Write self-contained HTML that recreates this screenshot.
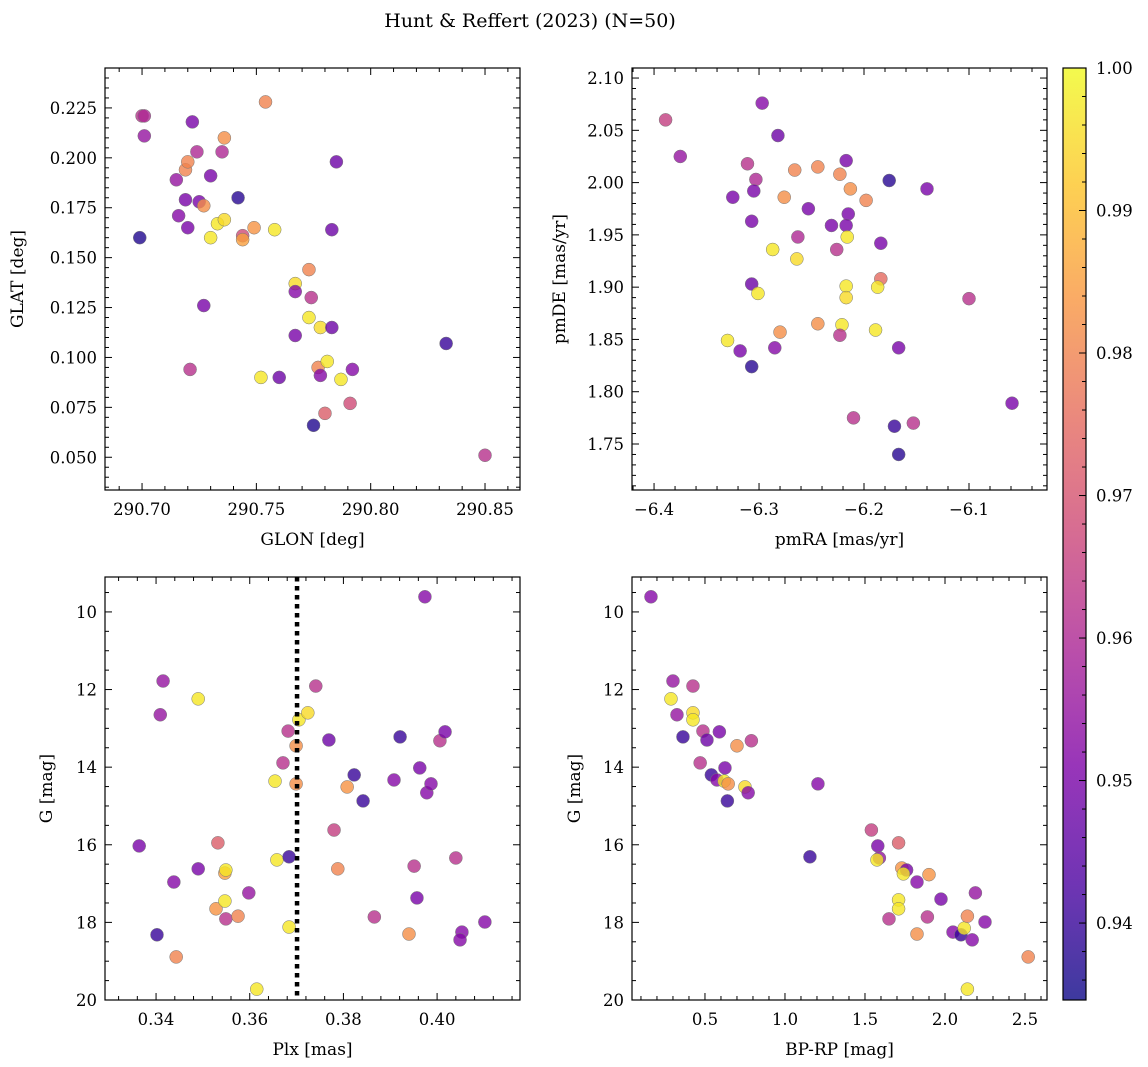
<!DOCTYPE html>
<html><head><meta charset="utf-8">
<style>
html,body{margin:0;padding:0;background:#fff;}
svg{display:block;font-family:"DejaVu Serif","Liberation Serif",serif;}
</style></head>
<body>
<svg id="fig" width="1148" height="1067" viewBox="0 0 1148 1067" xmlns="http://www.w3.org/2000/svg">
<text x="530" y="27" font-size="19" text-anchor="middle">Hunt &amp; Reffert (2023) (N=50)</text>
</svg>
<script>
// Panel 1: GLON vs GLAT
const glon = [290.699,290.700,290.701,290.701,290.715,290.716,290.719,290.719,290.720,290.720,290.722,290.721,290.724,290.725,290.727,290.727,290.730,290.730,290.733,290.735,290.736,290.736,290.742,290.744,290.744,290.749,290.752,290.754,290.758,290.760,290.767,290.767,290.767,290.773,290.773,290.774,290.775,290.777,290.778,290.778,290.780,290.781,290.783,290.783,290.785,290.787,290.791,290.792,290.833,290.850];
const glat = [0.160,0.221,0.221,0.211,0.189,0.171,0.179,0.194,0.198,0.165,0.218,0.094,0.203,0.178,0.176,0.126,0.160,0.191,0.167,0.203,0.210,0.169,0.180,0.161,0.159,0.165,0.090,0.228,0.164,0.090,0.137,0.133,0.111,0.144,0.120,0.130,0.066,0.095,0.091,0.115,0.072,0.098,0.115,0.164,0.198,0.089,0.077,0.094,0.107,0.051];
const prob1 = [0.937,0.962,0.960,0.955,0.955,0.952,0.950,0.980,0.980,0.950,0.950,0.962,0.960,0.950,0.982,0.950,0.997,0.950,0.997,0.960,0.982,0.995,0.938,0.968,0.985,0.983,0.997,0.980,0.997,0.948,0.995,0.952,0.950,0.980,0.997,0.962,0.937,0.980,0.952,0.995,0.972,0.997,0.948,0.948,0.948,0.997,0.968,0.952,0.940,0.962];
// Panel 2: pmRA vs pmDE
const pmra = [-6.389,-6.297,-6.375,-6.311,-6.282,-6.325,-6.303,-6.305,-6.307,-6.266,-6.276,-6.244,-6.253,-6.223,-6.217,-6.213,-6.198,-6.231,-6.215,-6.217,-6.216,-6.263,-6.287,-6.226,-6.264,-6.176,-6.140,-6.184,-6.307,-6.301,-6.217,-6.217,-6.184,-6.187,-6.100,-6.280,-6.244,-6.221,-6.189,-6.223,-6.330,-6.318,-6.285,-6.167,-6.307,-6.059,-6.210,-6.153,-6.171,-6.167];
const pmde = [2.060,2.076,2.025,2.018,2.045,1.986,2.003,1.992,1.963,2.012,1.986,2.015,1.975,2.008,2.021,1.994,1.983,1.959,1.970,1.959,1.948,1.948,1.936,1.936,1.927,2.002,1.994,1.942,1.903,1.894,1.901,1.890,1.908,1.900,1.889,1.857,1.865,1.864,1.859,1.854,1.849,1.839,1.842,1.842,1.824,1.789,1.775,1.770,1.767,1.740];
const prob2 = [0.965,0.952,0.955,0.962,0.948,0.950,0.960,0.950,0.950,0.980,0.982,0.980,0.950,0.980,0.950,0.982,0.980,0.950,0.950,0.950,0.997,0.960,0.997,0.962,0.995,0.938,0.950,0.950,0.948,0.997,0.997,0.995,0.975,0.997,0.962,0.982,0.982,0.997,0.997,0.962,0.997,0.950,0.952,0.950,0.938,0.950,0.962,0.962,0.940,0.938];
// Panel 3: Plx vs G
const plx = [0.3364,0.3415,0.3409,0.3402,0.3438,0.3443,0.349,0.349,0.3532,0.3528,0.3547,0.3549,0.3547,0.3549,0.3575,0.3598,0.3615,0.3654,0.3658,0.3671,0.3682,0.3684,0.3684,0.3699,0.3699,0.3705,0.3724,0.3741,0.3769,0.3808,0.3780,0.3788,0.3823,0.3842,0.3866,0.3908,0.3921,0.394,0.3951,0.3957,0.3963,0.3974,0.3978,0.3987,0.4006,0.4017,0.404,0.4053,0.4049,0.4102];
const gmag3 = [16.03,11.78,12.65,18.32,16.96,18.89,12.24,16.62,15.95,17.65,16.73,16.65,17.45,17.91,17.84,17.24,19.72,14.36,16.39,13.89,13.07,16.31,18.12,13.45,14.43,12.78,12.60,11.91,13.30,14.51,15.62,16.62,14.20,14.87,17.86,14.33,13.22,18.30,16.55,17.37,14.02,9.61,14.66,14.43,13.32,13.09,16.34,18.25,18.45,17.99];
const prob3 = [0.950,0.955,0.955,0.940,0.952,0.980,0.997,0.950,0.972,0.983,0.985,0.997,0.997,0.962,0.980,0.955,0.997,0.997,0.997,0.962,0.962,0.940,0.997,0.982,0.982,0.997,0.995,0.962,0.948,0.983,0.965,0.980,0.940,0.940,0.962,0.952,0.940,0.982,0.962,0.950,0.950,0.952,0.952,0.952,0.962,0.950,0.962,0.952,0.952,0.952];
const plxRef = [0.3701];
// Panel 4: BP-RP vs G
const bprp = [0.1625,0.30,0.2875,0.325,0.3625,0.425,0.425,0.425,0.4875,0.5125,0.59,0.47,0.54,0.575,0.625,0.62,0.645,0.64,0.70,0.79,0.75,0.77,1.206,1.156,1.54,1.58,1.59,1.575,1.71,1.73,1.76,1.74,1.71,1.71,1.65,1.825,1.90,1.89,1.825,1.975,2.05,2.10,2.12,2.14,2.17,2.19,2.25,2.14,2.52];
const gmag4 = [9.61,11.78,12.24,12.65,13.22,11.91,12.60,12.78,13.07,13.30,13.09,13.89,14.20,14.33,14.02,14.36,14.43,14.87,13.45,13.32,14.51,14.66,14.43,16.31,15.62,16.03,16.34,16.39,15.95,16.60,16.65,16.75,17.42,17.65,17.91,16.96,16.77,17.86,18.30,17.40,18.25,18.32,18.15,17.84,18.45,17.24,17.99,19.72,18.89];
const prob4 = [0.952,0.955,0.997,0.955,0.940,0.962,0.995,0.997,0.962,0.948,0.950,0.962,0.940,0.952,0.950,0.997,0.982,0.940,0.982,0.962,0.995,0.952,0.952,0.940,0.965,0.950,0.955,0.997,0.972,0.983,0.950,0.997,0.997,0.997,0.962,0.952,0.983,0.962,0.982,0.950,0.952,0.940,0.997,0.980,0.952,0.955,0.952,0.997,0.980];
const cbTicks = [0.94,0.95,0.96,0.97,0.98,0.99,1.00];

const NS = "http://www.w3.org/2000/svg";
const svg = document.getElementById('fig');
const CMIN = 0.9346, CMAX = 1.0;
const stops = [[13,8,135],[76,2,161],[126,3,168],[169,35,149],[204,71,120],[229,107,93],[248,149,64],[253,197,39],[240,249,33]];
function plasma(t){
  t = Math.max(0,Math.min(1,t));
  const p = t*(stops.length-1), i = Math.min(stops.length-2,Math.floor(p)), f = p-i;
  const c = stops[i].map((v,k)=>Math.round(v+(stops[i+1][k]-v)*f));
  return `rgb(${c[0]},${c[1]},${c[2]})`;
}
function mk(tag, attrs, parent){
  const e = document.createElementNS(NS, tag);
  for (const k in attrs) e.setAttribute(k, attrs[k]);
  (parent||svg).appendChild(e);
  return e;
}
function fmt(v, d){ return (v<0?'\u2212':'') + Math.abs(v).toFixed(d); }

function panel(o){
  const g = mk('g', {});
  
  
  const sx = v => o.x0 + (v - o.xmin)/(o.xmax - o.xmin)*(o.x1 - o.x0);
  const sy = o.invert ? (v => o.y0 + (v - o.ymin)/(o.ymax - o.ymin)*(o.y1 - o.y0))
                      : (v => o.y1 - (v - o.ymin)/(o.ymax - o.ymin)*(o.y1 - o.y0));
  for (let i=0;i<o.xs.length;i++){
    const c = mk('circle', {cx:sx(o.xs[i]), cy:sy(o.ys[i]), r:6.5, fill:plasma((o.cs[i]-CMIN)/(CMAX-CMIN)), 'fill-opacity':0.8, stroke:'#777', 'stroke-width':0.5}, g);
    
    
  }
  if (o.vline){
    const l = mk('line', {x1:sx(o.vline), x2:sx(o.vline), y1:o.y0, y2:o.y1, stroke:'#000', 'stroke-width':4.5, 'stroke-dasharray':'4.5 4.5'}, g);
    
    
  }
  const fr = mk('rect', {x:o.x0, y:o.y0, width:o.x1-o.x0, height:o.y1-o.y0, fill:'none', stroke:'#000', 'stroke-width':1.2}, g);
  
  
  const eps = 1e-9;
  for (let v = Math.ceil((o.xmin)/o.xminor - eps)*o.xminor; v <= o.xmax+eps; v += o.xminor){
    const X = sx(v);
    const isMaj = Math.abs(v/o.xmajor - Math.round(v/o.xmajor)) < 1e-6;
    const len = isMaj ? 7 : 4;
    mk('line', {x1:X, x2:X, y1:o.y1, y2:o.y1-len, stroke:'#000', 'stroke-width':1}, g);
    mk('line', {x1:X, x2:X, y1:o.y0, y2:o.y0+len, stroke:'#000', 'stroke-width':1}, g);
    if (isMaj){
      const t = mk('text', {x:X, y:o.y1+25, 'font-size':16.5, 'text-anchor':'middle'}, g);
      t.textContent = fmt(v, o.xdec);
      
      
    }
  }
  for (let v = Math.ceil((o.ymin)/o.yminor - eps)*o.yminor; v <= o.ymax+eps; v += o.yminor){
    const Y = sy(v);
    const isMaj = Math.abs(v/o.ymajor - Math.round(v/o.ymajor)) < 1e-6;
    const len = isMaj ? 7 : 4;
    mk('line', {x1:o.x0, x2:o.x0+len, y1:Y, y2:Y, stroke:'#000', 'stroke-width':1}, g);
    mk('line', {x1:o.x1, x2:o.x1-len, y1:Y, y2:Y, stroke:'#000', 'stroke-width':1}, g);
    if (isMaj){
      const t = mk('text', {x:o.x0-8, y:Y+6, 'font-size':16.5, 'text-anchor':'end'}, g);
      t.textContent = fmt(v, o.ydec);
      
      
    }
  }
  const xl = mk('text', {x:(o.x0+o.x1)/2, y:o.y1+55, 'font-size':17, 'text-anchor':'middle'}, g);
  xl.textContent = o.xlabel;
  
  
  const yx = o.ylx, yy = (o.y0+o.y1)/2;
  const yl = mk('text', {x:yx, y:yy, 'font-size':17, 'text-anchor':'middle', transform:`rotate(-90 ${yx} ${yy})`}, g);
  yl.textContent = o.ylabel;
  
  
}

panel({name:'glon-glat-panel', x0:105,x1:520,y0:68,y1:490, xmin:290.6838,xmax:290.8653,ymin:0.0336,ymax:0.245,
  xmajor:0.05,xminor:0.01,ymajor:0.025,yminor:0.005,xdec:2,ydec:3,xs:glon,ys:glat,cs:prob1,xlabel:'GLON [deg]',ylabel:'GLAT [deg]',ylx:23});
panel({name:'pm-panel', x0:632,x1:1047,y0:68,y1:490, xmin:-6.421,xmax:-6.0257,ymin:1.706,ymax:2.1096,
  xmajor:0.1,xminor:0.02,ymajor:0.05,yminor:0.01,xdec:1,ydec:2,xs:pmra,ys:pmde,cs:prob2,xlabel:'pmRA [mas/yr]',ylabel:'pmDE [mas/yr]',ylx:565});
panel({name:'plx-g-panel', x0:105,x1:520,y0:577,y1:1000, xmin:0.3291,xmax:0.4177,ymin:9.10,ymax:20,invert:true,
  xmajor:0.02,xminor:0.004,ymajor:2,yminor:0.5,xdec:2,ydec:0,xs:plx,ys:gmag3,cs:prob3,xlabel:'Plx [mas]',ylabel:'G [mag]',ylx:52,vline:plxRef[0]});
panel({name:'cmd-panel', x0:632,x1:1047,y0:577,y1:1000, xmin:0.044,xmax:2.6375,ymin:9.10,ymax:20,invert:true,
  xmajor:0.5,xminor:0.1,ymajor:2,yminor:0.5,xdec:1,ydec:0,xs:bprp,ys:gmag4,cs:prob4,xlabel:'BP-RP [mag]',ylabel:'G [mag]',ylx:580});

const cb = mk('g', {});


const defs = mk('defs', {}, cb);
const grad = mk('linearGradient', {id:'cbg', x1:0, y1:1, x2:0, y2:0}, defs);
for (let i=0;i<=32;i++){
  mk('stop', {offset:(i/32), 'stop-color':plasma(i/32), 'stop-opacity':0.8}, grad);
}
const CBX0=1063, CBX1=1086, CBY0=68, CBY1=1000;
const cy = v => CBY1 - (v-CMIN)/(CMAX-CMIN)*(CBY1-CBY0);
mk('rect', {x:CBX0, y:CBY0, width:CBX1-CBX0, height:CBY1-CBY0, fill:'url(#cbg)', stroke:'#000', 'stroke-width':1.2}, cb);
for (let v = 0.936; v <= 1.0001; v += 0.002){
  const Y = cy(v);
  mk('line', {x1:CBX1, x2:CBX1-4, y1:Y, y2:Y, stroke:'#000', 'stroke-width':1}, cb);
}
cbTicks.forEach(v=>{
  const Y = cy(v);
  mk('line', {x1:CBX1, x2:CBX1-7, y1:Y, y2:Y, stroke:'#000', 'stroke-width':1}, cb);
  const t = mk('text', {x:CBX1+10, y:Y+6, 'font-size':16.5}, cb);
  t.textContent = v.toFixed(2);
  
  
});
</script>
</body></html>
